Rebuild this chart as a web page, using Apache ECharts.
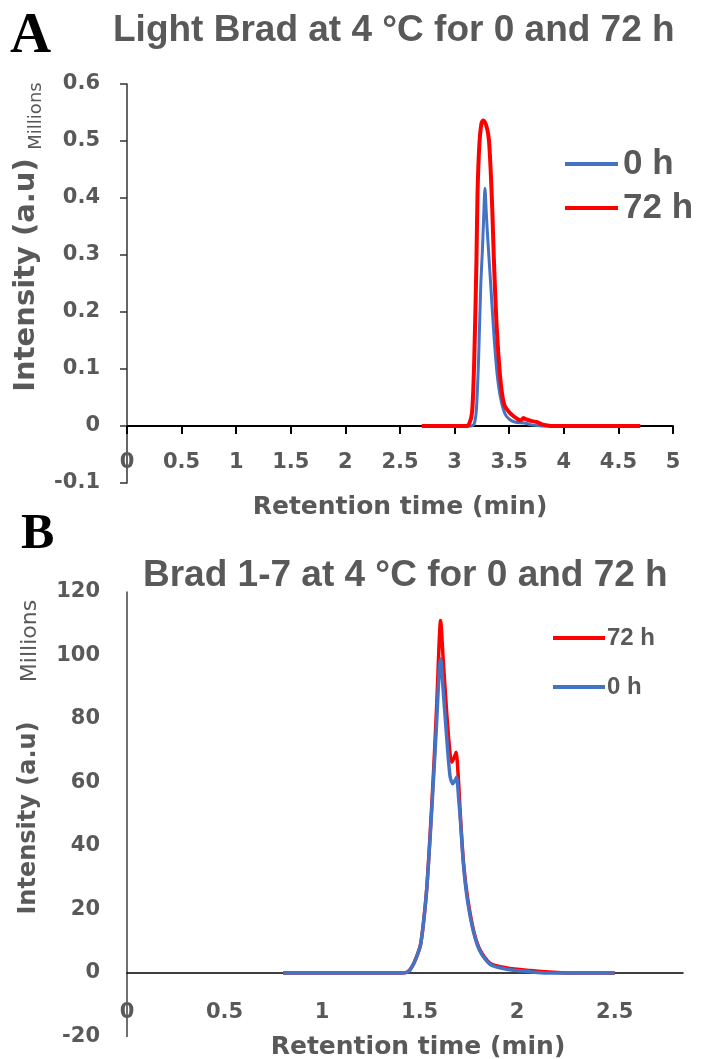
<!DOCTYPE html>
<html><head><meta charset="utf-8">
<script src="https://cdn.jsdelivr.net/npm/echarts@6/dist/echarts.min.js"></script>
<style>html,body{margin:0;padding:0;background:#fff}#c{width:704px;height:1059px}</style>
</head><body><div id="c"></div>
<script>
// ---------- DATA ----------
const titleA = 'Light Brad at 4 °C for 0 and 72 h';
const titleB = 'Brad 1-7 at 4 °C for 0 and 72 h';
const xNameA = 'Retention time (min)';
const xNameB = 'Retention time (min)';
const yName = 'Intensity (a.u)';
const unitLabel = 'Millions';
const legendA = ['0 h', '72 h'];
const legendB = ['72 h', '0 h'];
const xTicksA = [0, 0.5, 1, 1.5, 2, 2.5, 3, 3.5, 4, 4.5, 5];
const yTicksA = [-0.1, 0, 0.1, 0.2, 0.3, 0.4, 0.5, 0.6];
const xTicksB = [0, 0.5, 1, 1.5, 2, 2.5];
const xMaxB = 2.85;
const yTicksB = [-20, 0, 20, 40, 60, 80, 100, 120];

// Chart A (millions), [retention time, intensity]
const blueA = [[2.7,0],[3.15,0],[3.18,0.004],[3.2,0.03],[3.22,0.12],[3.24,0.25],[3.255,0.31],[3.265,0.36],[3.278,0.417],[3.29,0.375],[3.3,0.34],[3.33,0.25],[3.36,0.16],[3.39,0.09],[3.42,0.05],[3.46,0.022],[3.5,0.012],[3.55,0.007],[3.65,0.005],[3.7,0.002],[3.8,0],[4.7,0]];
const redA = [[2.7,0],[3.1,0],[3.13,0.002],[3.16,0.024],[3.18,0.117],[3.2,0.29],[3.21,0.408],[3.227,0.495],[3.245,0.53],[3.26,0.536],[3.28,0.532],[3.3,0.52],[3.315,0.5],[3.33,0.45],[3.345,0.38],[3.36,0.29],[3.385,0.175],[3.416,0.088],[3.44,0.05],[3.46,0.035],[3.5,0.024],[3.535,0.018],[3.58,0.012],[3.61,0.01],[3.63,0.014],[3.65,0.012],[3.7,0.009],[3.75,0.007],[3.8,0.003],[3.85,0.001],[3.9,0],[4.7,0]];

// Chart B (millions)
const redB = [[0.8,0],[1.40,0],[1.434,0.2],[1.45,1],[1.47,3],[1.49,6],[1.505,9],[1.52,16],[1.537,27],[1.555,45],[1.571,63],[1.588,85],[1.6,104],[1.607,111],[1.622,97.5],[1.639,81.8],[1.656,69],[1.665,66.4],[1.678,68],[1.687,69.5],[1.699,60.8],[1.708,50.4],[1.725,34.6],[1.745,24],[1.776,13.5],[1.81,7.2],[1.862,3],[1.947,1.6],[2.067,0.8],[2.186,0.2],[2.25,0],[2.5,0]];
const blueB = [[0.8,0],[1.40,0],[1.434,0.2],[1.45,1],[1.47,3],[1.49,6],[1.505,9],[1.52,16],[1.537,27],[1.555,44],[1.571,61],[1.588,80],[1.6,95],[1.607,99],[1.622,88],[1.639,74],[1.656,62],[1.67,59.6],[1.685,61],[1.69,61.7],[1.70,55],[1.708,49],[1.725,34],[1.745,23],[1.776,13],[1.81,6.8],[1.862,2.7],[1.947,1.2],[2.067,0.4],[2.15,0],[2.5,0]];

// ---------- STYLE / LAYOUT ----------
const GRAY = '#595959';
const BLUE = '#4472C4';
const RED = '#FF0000';
const tickFont = {fontFamily:'DejaVu Sans', fontWeight:'bold', fontSize:21, color:GRAY};
const gridA = {left:127, top:84, width:546, height:399, outerBoundsMode:'none', containLabel:false};
const gridB = {left:127, top:592, width:556, height:444.5, outerBoundsMode:'none', containLabel:false};
const yMinA = yTicksA[0], yMaxA = yTicksA[yTicksA.length-1];
const yMinB = yTicksB[0], yMaxB = yTicksB[yTicksB.length-1];
// shift x axes up so they sit on the y = 0 line
const zeroOffsetA = -gridA.height * (0 - yMinA) / (yMaxA - yMinA);
const zeroOffsetB = -gridB.height * (0 - yMinB) / (yMaxB - yMinB);

const chart = echarts.init(document.getElementById('c'), null, {renderer:'canvas'});
chart.setOption({
  animation:false,
  backgroundColor:'#fff',
  title:[
    {text:titleA, left:113, top:12, padding:0,
     textStyle:{fontFamily:'Liberation Sans', fontWeight:'bold', fontSize:37, color:GRAY}},
    {text:titleB, left:143, top:557, padding:0,
     textStyle:{fontFamily:'Liberation Sans', fontWeight:'bold', fontSize:37, color:GRAY}}
  ],
  legend:[
    {data:legendA, orient:'vertical', left:565, top:145, padding:0, itemGap:6,
     icon:'rect', itemWidth:53, itemHeight:4, selectedMode:false,
     textStyle:{fontFamily:'Liberation Sans', fontWeight:'bold', fontSize:35, lineHeight:38, color:GRAY, padding:[0,0,0,0]}},
    {data:legendB, orient:'vertical', left:553, top:624, padding:0, itemGap:21,
     icon:'rect', itemWidth:52, itemHeight:4, selectedMode:false,
     textStyle:{fontFamily:'Liberation Sans', fontWeight:'bold', fontSize:24, lineHeight:28, color:GRAY, padding:[0,0,0,-3]}}
  ],
  grid:[gridA, gridB],
  xAxis:[
    {type:'value', gridIndex:0, min:xTicksA[0], max:xTicksA[xTicksA.length-1], interval:xTicksA[1]-xTicksA[0],
     offset:zeroOffsetA,
     axisLine:{onZero:false, lineStyle:{color:'#000', width:2}},
     axisTick:{show:true, length:8, lineStyle:{color:'#000', width:2}},
     axisLabel:{...tickFont, margin:26},
     splitLine:{show:false},
     name:xNameA, nameLocation:'middle', nameGap:69,
     nameTextStyle:{fontFamily:'DejaVu Sans', fontWeight:'bold', fontSize:25, color:GRAY}},
    {type:'value', gridIndex:1, min:xTicksB[0], max:xMaxB, interval:xTicksB[1]-xTicksB[0],
     offset:zeroOffsetB,
     axisLine:{onZero:false, lineStyle:{color:'#000', width:1.5}},
     axisTick:{show:false},
     axisLabel:{...tickFont, margin:29, showMaxLabel:false},
     splitLine:{show:false},
     name:xNameB, nameLocation:'middle', nameGap:62,
     nameTextStyle:{fontFamily:'DejaVu Sans', fontWeight:'bold', fontSize:25, color:GRAY, padding:[0,0,0,26]}}
  ],
  yAxis:[
    {type:'value', gridIndex:0, min:yMinA, max:yMaxA, interval:0.1,
     axisLine:{show:true, onZero:false, lineStyle:{color:'#333', width:1.5}},
     axisTick:{show:true, length:7, lineStyle:{color:'#333', width:1.5}},
     axisLabel:{...tickFont, margin:27},
     splitLine:{show:false}},
    {type:'value', gridIndex:1, min:yMinB, max:yMaxB, interval:20,
     axisLine:{show:true, onZero:false, lineStyle:{color:'#404040', width:1.5}},
     axisTick:{show:false},
     axisLabel:{...tickFont, margin:27},
     splitLine:{show:false}}
  ],
  series:[
    {name:'0 h', type:'line', xAxisIndex:0, yAxisIndex:0, data:blueA, showSymbol:false, smooth:0.25,
     lineStyle:{color:BLUE, width:3}, itemStyle:{color:BLUE}, z:2},
    {name:'72 h', type:'line', xAxisIndex:0, yAxisIndex:0, data:redA, showSymbol:false, smooth:0.25,
     lineStyle:{color:RED, width:4}, itemStyle:{color:RED}, z:3},
    {name:'72 h', type:'line', xAxisIndex:1, yAxisIndex:1, data:redB, showSymbol:false, smooth:0.25,
     lineStyle:{color:RED, width:3.5}, itemStyle:{color:RED}, z:2},
    {name:'0 h', type:'line', xAxisIndex:1, yAxisIndex:1, data:blueB, showSymbol:false, smooth:0.25,
     lineStyle:{color:BLUE, width:3.5}, itemStyle:{color:BLUE}, z:3}
  ],
  graphic:[
    {type:'text', x:10, y:37, style:{text:'A', fontFamily:'Liberation Serif', fontWeight:'bold', fontSize:57, fill:'#000', verticalAlign:'middle'}},
    {type:'text', x:21, y:535, style:{text:'B', fontFamily:'Liberation Serif', fontWeight:'bold', fontSize:50, fill:'#000', verticalAlign:'middle'}},
    {type:'text', x:26, y:275, rotation:Math.PI/2, style:{text:yName, fontFamily:'DejaVu Sans', fontWeight:'bold', fontSize:29, fill:GRAY, align:'center', verticalAlign:'middle'}},
    {type:'text', x:36, y:116, rotation:Math.PI/2, style:{text:unitLabel, fontFamily:'DejaVu Sans', fontSize:18, fill:GRAY, align:'center', verticalAlign:'middle'}},
    {type:'text', x:29, y:818, rotation:Math.PI/2, style:{text:yName, fontFamily:'DejaVu Sans', fontWeight:'bold', fontSize:24, fill:GRAY, align:'center', verticalAlign:'middle'}},
    {type:'text', x:30, y:641, rotation:Math.PI/2, style:{text:unitLabel, fontFamily:'DejaVu Sans', fontSize:22, fill:GRAY, align:'center', verticalAlign:'middle'}}
  ]
});
</script></body></html>
